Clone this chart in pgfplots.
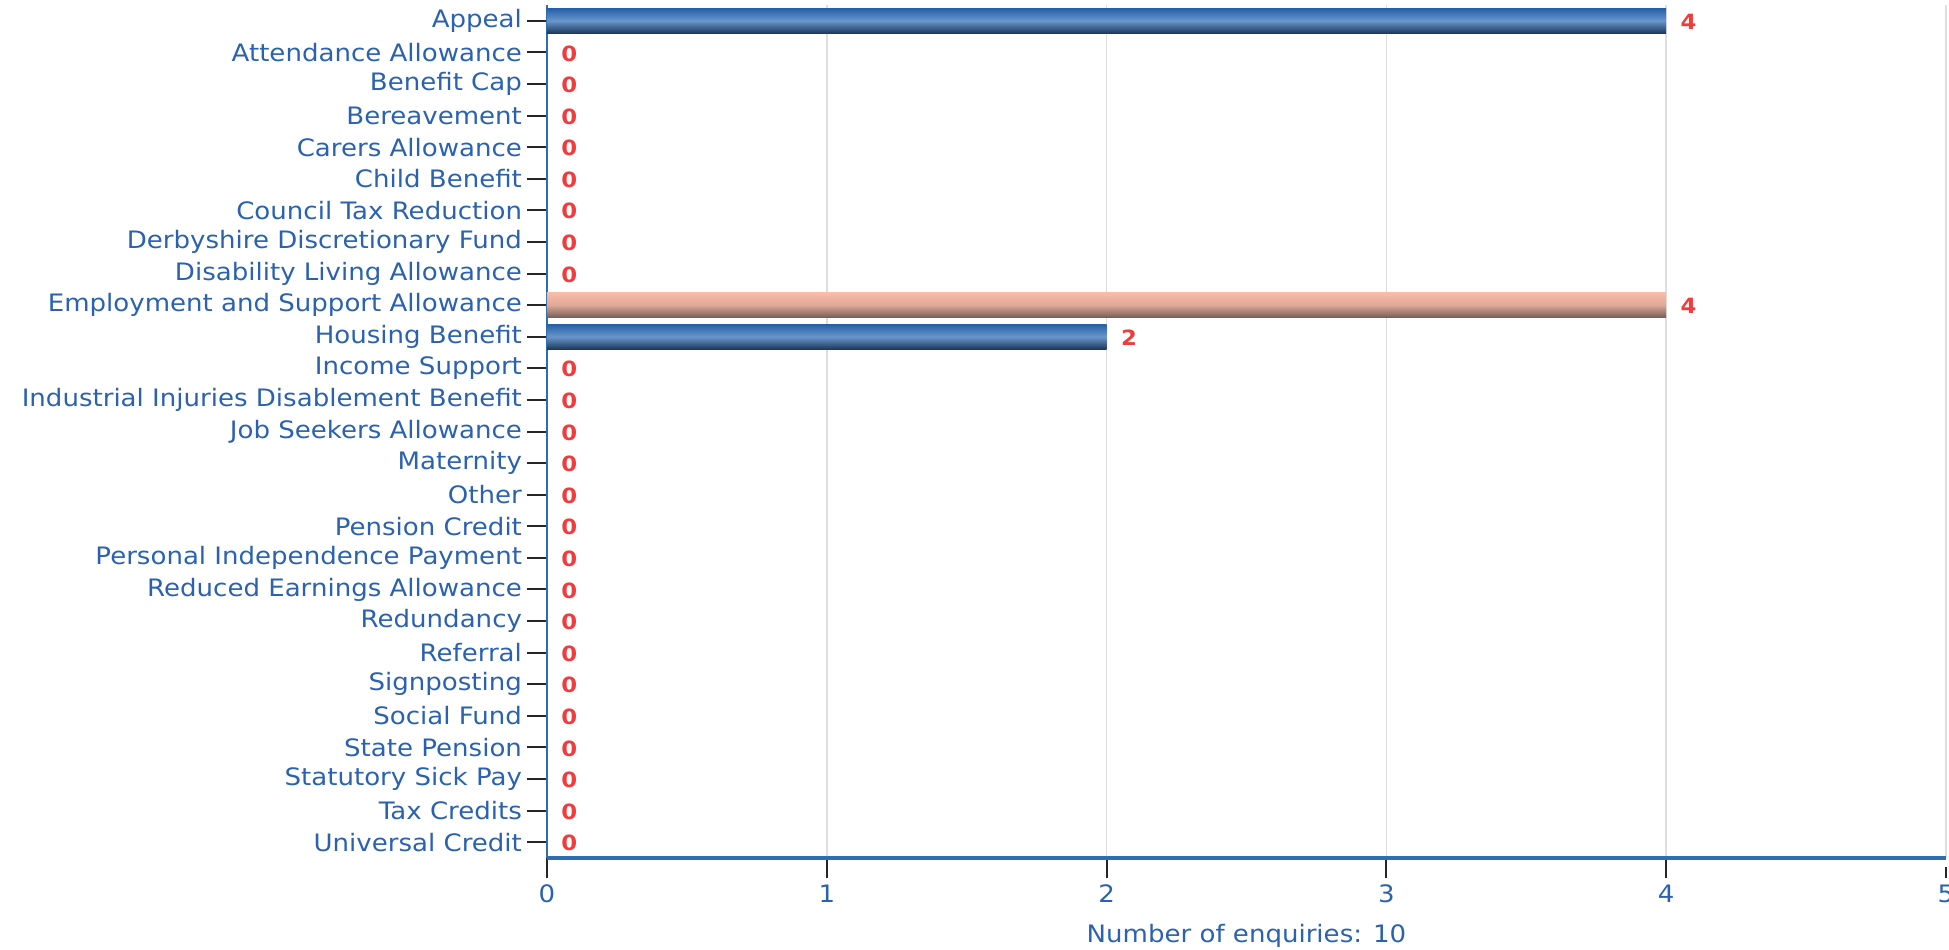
\documentclass[border=0pt]{standalone}
\usepackage{fontspec}
\setmainfont{DejaVu Sans}[FakeStretch=1.085]
\usepackage{pgfplots}
\pgfplotsset{compat=1.18}
\definecolor{lblue}{RGB}{42,98,176}
\definecolor{axblue}{RGB}{46,110,176}
\definecolor{vred}{RGB}{240,60,60}
\definecolor{btop}{RGB}{38,96,168}
\definecolor{bmid}{RGB}{105,150,202}
\definecolor{bbot}{RGB}{28,56,92}
\definecolor{stop}{RGB}{250,188,168}
\definecolor{smid}{RGB}{222,168,150}
\definecolor{sbot}{RGB}{118,92,86}
\begin{document}
\begin{tikzpicture}
\begin{axis}[
  name=ax,
  xbar,
  scale only axis,
  width=699.5pt, height=426.5pt,
  xmin=0, xmax=5,
  ymin=-0.5, ymax=26.5,
  y dir=reverse,
  bar width=12.5pt,
  axis x line*=bottom,
  axis y line*=left,
  x axis line style={draw=axblue, line width=1.6pt},
  y axis line style={draw=axblue, line width=1pt},
  xtick={0,...,5},
  ytick={0,...,26},
  yticklabels={Appeal, Attendance Allowance, Benefit Cap, Bereavement, Carers Allowance, Child Benefit, Council Tax Reduction, Derbyshire Discretionary Fund, Disability Living Allowance, Employment and Support Allowance, Housing Benefit, Income Support, Industrial Injuries Disablement Benefit, Job Seekers Allowance, Maternity, Other, Pension Credit, Personal Independence Payment, Reduced Earnings Allowance, Redundancy, Referral, Signposting, Social Fund, State Pension, Statutory Sick Pay, Tax Credits, Universal Credit},
  tick align=outside,
  major tick length=10pt,
  xtick style={draw=black!85, line width=1pt, shorten >=4.5pt},
  ytick style={draw=black!85, line width=1pt},
  /pgf/number format/assume math mode=true,
  tick label style={text=lblue, font=\fontsize{12}{14}\selectfont},
  y tick label style={xshift=1pt},
  xmajorgrids,
  grid style={draw=black!13, line width=0.8pt},
  xlabel={Number of enquiries: 10},
  xlabel style={text=lblue, font=\fontsize{12}{14}\selectfont, at={(axis description cs:0.5,0)}, anchor=center, yshift=-39pt},
]
\addplot[bar shift=0pt, draw=none, top color=btop, bottom color=bbot, middle color=bmid]
  coordinates {(4,0)};
\addplot[bar shift=0pt, draw=none, top color=btop, bottom color=bbot, middle color=bmid]
  coordinates {(2,10)};
\addplot[bar shift=0pt, draw=none, top color=stop, bottom color=sbot, middle color=smid]
  coordinates {(4,9)};
\addplot[bar shift=0pt, draw=none, fill=none, point meta=x,
  nodes near coords,
  every node near coord/.append style={anchor=west, inner sep=0pt, xshift=7pt, yshift=-0.5pt, text=vred, font=\bfseries\fontsize{10.5}{12}\selectfont}]
  coordinates {(4,0) (0,1) (0,2) (0,3) (0,4) (0,5) (0,6) (0,7) (0,8) (4,9) (2,10) (0,11) (0,12) (0,13) (0,14) (0,15) (0,16) (0,17) (0,18) (0,19) (0,20) (0,21) (0,22) (0,23) (0,24) (0,25) (0,26)};
\end{axis}
\pgfresetboundingbox
\path[use as bounding box] ([xshift=-273.5pt,yshift=-46pt]ax.south west) rectangle ([xshift=1.5pt,yshift=2.5pt]ax.north east);
\end{tikzpicture}
\end{document}
